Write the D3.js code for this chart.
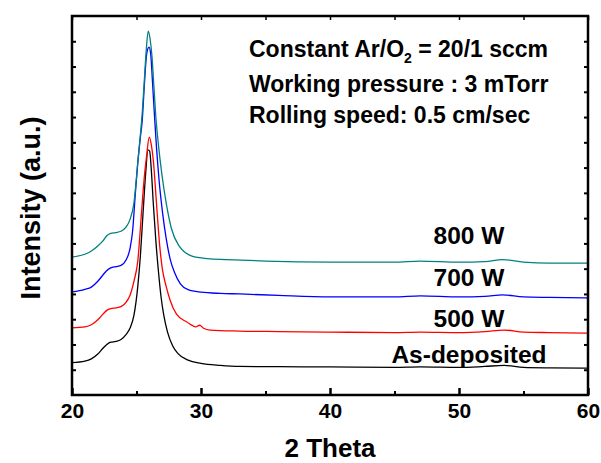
<!DOCTYPE html>
<html>
<head>
<meta charset="utf-8">
<script src="https://cdn.jsdelivr.net/npm/d3@7"></script>
<style>
  body { margin: 0; background: #fff; }
  text { font-family: "Liberation Sans", Arial, sans-serif; font-weight: bold; fill: #000; }
</style>
</head>
<body>
<svg id="chart" width="601" height="463"></svg>
<script>
// 2-theta positions and intensities (a.u., offset stacked)
var asDepX = [20, 21, 21.5, 22, 22.4, 22.7, 23, 23.4, 23.8, 24.2, 24.5, 24.8, 25.1, 25.3, 25.52, 25.7, 25.89, 26.02, 26.15, 26.3, 26.5, 26.7, 26.9, 27.1, 27.4, 27.8, 28.2, 29, 30, 31.5, 33, 36, 40, 45, 47, 50, 52, 53.5, 55, 57, 60];
var asDepY = [1.28, 1.34, 1.43, 1.62, 1.85, 2.0, 2.09, 2.12, 2.2, 2.4, 2.65, 3.15, 4.3, 5.5, 7.3, 8.7, 9.7, 9.65, 8.9, 7.6, 6.1, 4.9, 3.9, 3.2, 2.5, 1.95, 1.65, 1.38, 1.25, 1.17, 1.13, 1.12, 1.11, 1.09, 1.11, 1.09, 1.13, 1.17, 1.09, 1.07, 1.06];

var w500X = [20, 21, 21.5, 22, 22.4, 22.7, 23, 23.4, 23.8, 24.2, 24.5, 24.8, 25.1, 25.4, 25.6, 25.79, 25.99, 26.15, 26.3, 26.57, 26.8, 27, 27.3, 27.6, 28.1, 28.9, 29.6, 29.9, 30.2, 30.7, 33, 36, 40, 45, 47, 50, 52, 53.5, 55, 57, 60];
var w500Y = [2.66, 2.7, 2.78, 2.98, 3.2, 3.35, 3.42, 3.45, 3.5, 3.68, 3.95, 4.5, 5.3, 7.3, 8.6, 9.5, 10.21, 9.9, 9.3, 7.44, 5.9, 5.0, 4.3, 3.76, 3.2, 2.89, 2.7, 2.76, 2.64, 2.57, 2.53, 2.51, 2.49, 2.47, 2.49, 2.47, 2.51, 2.57, 2.49, 2.47, 2.45];

var w700X = [20, 21, 21.5, 22, 22.4, 22.7, 23, 23.4, 23.8, 24.2, 24.5, 24.7, 24.9, 25.1, 25.3, 25.45, 25.6, 25.79, 25.97, 26.1, 26.25, 26.4, 26.55, 26.75, 27, 27.3, 27.6, 27.95, 28.4, 29, 30, 31.5, 33, 36, 40, 45, 47, 50, 52, 53.4, 55, 57, 60];
var w700Y = [4.08, 4.18, 4.27, 4.5, 4.75, 4.93, 5.03, 5.08, 5.13, 5.35, 5.8, 6.5, 7.9, 9.2, 10.2, 10.9, 12.19, 13.5, 13.77, 13.5, 12.3, 11.0, 9.8, 8.5, 7.3, 6.2, 5.4, 4.85, 4.4, 4.17, 4.07, 4.02, 4.0, 3.94, 3.88, 3.88, 3.92, 3.88, 3.9, 3.96, 3.88, 3.86, 3.84];

var w800X = [20, 21, 21.5, 22, 22.4, 22.7, 23, 23.4, 23.8, 24.2, 24.5, 24.8, 25.1, 25.3, 25.45, 25.6, 25.75, 25.91, 26.05, 26.2, 26.35, 26.5, 26.7, 26.95, 27.3, 27.7, 28.3, 29.3, 30.5, 32, 35, 40, 45, 47, 50, 52, 53.4, 55, 57, 60];
var w800Y = [5.46, 5.57, 5.7, 5.9, 6.1, 6.3, 6.4, 6.43, 6.48, 6.65, 6.95, 7.6, 9.2, 10.3, 11.2, 12.4, 13.6, 14.4, 14.1, 13.4, 12.2, 11.0, 9.9, 8.8, 7.6, 6.6, 5.9, 5.5, 5.4, 5.36, 5.3, 5.26, 5.26, 5.3, 5.26, 5.28, 5.36, 5.26, 5.22, 5.22];

var seriesNames = ["As-deposited", "500 W", "700 W", "800 W"];
var seriesColors = ["#000000", "#ff0000", "#0000ff", "#008080"];
var xTicks = [20, 30, 40, 50, 60];
var notes = ["Working pressure : 3 mTorr", "Rolling speed: 0.5 cm/sec"];

var svg = d3.select("#chart");
var mLeft = 72, mRight = 588, mTop = 16, mBottom = 395;

var x = d3.scaleLinear().domain([20, 60]).range([mLeft, mRight]);
var y = d3.scaleLinear().domain([0, 15]).range([mBottom, mTop]);

var series = [
  {name: seriesNames[0], color: seriesColors[0], xs: asDepX, ys: asDepY},
  {name: seriesNames[1], color: seriesColors[1], xs: w500X, ys: w500Y},
  {name: seriesNames[2], color: seriesColors[2], xs: w700X, ys: w700Y},
  {name: seriesNames[3], color: seriesColors[3], xs: w800X, ys: w800Y}
];

var line = d3.line()
  .x(function(d) { return x(d[0]); })
  .y(function(d) { return y(d[1]); })
  .curve(d3.curveMonotoneX);

svg.selectAll("path.curve")
  .data(series)
  .enter()
  .append("path")
  .attr("class", "curve")
  .attr("fill", "none")
  .attr("stroke", function(d) { return d.color; })
  .attr("stroke-width", 1.3)
  .attr("d", function(d) { return line(d.xs.map(function(v, i) { return [v, d.ys[i]]; })); });

// ticks: major + minor on bottom/top, every unit on left/right, all pointing inward
var minorX = d3.range(25, 60, 10);
var yTicks = d3.range(1, 15);

svg.append("g")
  .attr("transform", "translate(0," + mBottom + ")")
  .call(d3.axisBottom(x).tickValues(xTicks).tickSize(-7).tickPadding(8).tickFormat(d3.format("d")))
  .call(function(g) {
    g.select(".domain").remove();
    g.selectAll("line").attr("stroke-width", 2.5);
    g.selectAll("text").attr("font-size", 21);
  });
svg.append("g")
  .attr("transform", "translate(0," + mBottom + ")")
  .call(d3.axisBottom(x).tickValues(minorX).tickSize(-4).tickFormat(""))
  .call(function(g) { g.select(".domain").remove(); g.selectAll("line").attr("stroke-width", 2); });

svg.append("g")
  .attr("transform", "translate(0," + mTop + ")")
  .call(d3.axisTop(x).tickValues(xTicks.concat(minorX)).tickSize(-4).tickFormat(""))
  .call(function(g) { g.select(".domain").remove(); g.selectAll("line").attr("stroke-width", 1.5); });

svg.append("g")
  .attr("transform", "translate(" + mLeft + ",0)")
  .call(d3.axisLeft(y).tickValues(yTicks).tickSize(-4).tickFormat(""))
  .call(function(g) { g.select(".domain").remove(); g.selectAll("line").attr("stroke-width", 2); });

svg.append("g")
  .attr("transform", "translate(" + mRight + ",0)")
  .call(d3.axisRight(y).tickValues(yTicks).tickSize(-4).tickFormat(""))
  .call(function(g) { g.select(".domain").remove(); g.selectAll("line").attr("stroke-width", 2); });

// frame
svg.append("rect")
  .attr("x", mLeft).attr("y", mTop)
  .attr("width", mRight - mLeft).attr("height", mBottom - mTop)
  .attr("fill", "none").attr("stroke", "#000").attr("stroke-width", 2.5);

// axis titles
svg.append("text")
  .attr("x", (mLeft + mRight) / 2).attr("y", 457)
  .attr("text-anchor", "middle").attr("font-size", 26)
  .text("2 Theta");

svg.append("text")
  .attr("transform", "translate(40,208) rotate(-90)")
  .attr("text-anchor", "middle").attr("font-size", 27)
  .text("Intensity (a.u.)");

// curve labels
var labelY = [363, 327, 286, 244];
svg.selectAll("text.lab")
  .data(series)
  .enter()
  .append("text")
  .attr("class", "lab")
  .attr("x", 469)
  .attr("y", function(d, i) { return labelY[i]; })
  .attr("text-anchor", "middle")
  .attr("font-size", 24.5)
  .text(function(d) { return d.name; });

// conditions note
var t1 = svg.append("text").attr("x", 249).attr("y", 57).attr("font-size", 23);
t1.append("tspan").text("Constant Ar/O");
t1.append("tspan").attr("font-size", 14).attr("dy", 6).text("2");
t1.append("tspan").attr("dy", -6).text(" = 20/1 sccm");

svg.selectAll("text.note")
  .data(notes)
  .enter()
  .append("text")
  .attr("class", "note")
  .attr("x", 249)
  .attr("y", function(d, i) { return 92 + i * 31; })
  .attr("font-size", 23)
  .text(function(d) { return d; });
</script>
</body>
</html>
